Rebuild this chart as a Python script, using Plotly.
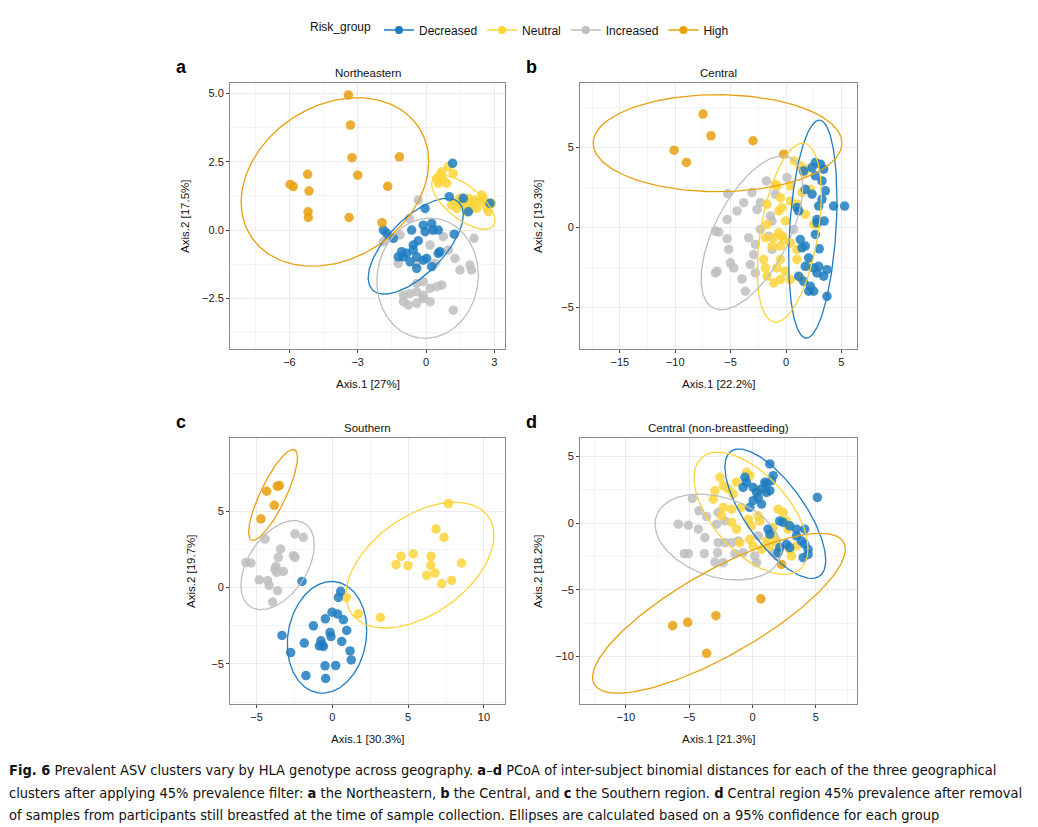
import numpy as np
import plotly.graph_objects as go

# The page body has an 8px margin; the figure is offset by it.
W, H = 1038, 827
OFF = 8
FW, FH = W - 2 * OFF, H - OFF


def px(x):
    return (x - OFF) / FW


def py(y):
    return 1 - (y - OFF) / FH


groups = ["Decreased", "Neutral", "Increased", "High"]
colors = ["#1F7CC1", "#FDD43A", "#BEBEBE", "#E8A00E"]

# ---------------- Panel a : Northeastern ----------------
a_dec_x = [1.17,1.02,1.64,2.81,-0.04,1.86,-1.87,-1.73,-1.43,-0.63,-0.12,0.25,-0.04,0.54,1.24,-0.34,-1.07,-1.22,-0.85,-0.56,-0.41,-0.12,0.03,-0.70,-0.41,0.25,0.54,0.61,-1.00,-0.56,0.32]
a_dec_y = [2.44,1.22,1.16,0.98,0.79,0.67,0.00,-0.12,-0.30,0.00,0.18,0.24,-0.06,0.00,-0.15,-0.39,-0.79,-0.98,-0.85,-0.73,-0.98,-1.10,-1.04,-1.16,-1.40,-1.34,-0.85,-0.79,-0.98,-0.55,0.00]
a_neu_x = [0.98,1.20,0.61,0.47,0.76,0.54,0.69,0.91,1.27,1.49,1.64,1.86,2.00,2.15,2.37,2.52,2.66,2.74,2.88,2.23,1.79,1.35,1.49,2.45,2.00,1.13,1.64]
a_neu_y = [2.32,2.07,2.01,1.89,1.83,1.71,2.13,1.71,1.04,0.98,0.85,1.16,0.98,1.10,1.04,1.16,0.85,0.67,0.98,0.79,0.67,0.79,1.16,1.28,0.79,0.91,1.04]
a_inc_x = [-0.34,-0.73,-1.14,-1.58,-1.87,0.25,0.76,0.18,0.98,2.11,1.27,1.93,2.00,1.49,-1.22,-0.41,0.40,-0.12,-0.41,0.47,0.69,0.18,-0.41,-0.70,-0.99,-0.78,-0.41,-0.12,0.18,-0.12,1.20,-0.99]
a_inc_y = [1.10,0.43,-0.18,-0.24,-0.43,0.00,-0.24,-0.55,-0.73,-0.30,-1.04,-1.28,-1.46,-1.46,-1.22,-1.22,-1.22,-1.89,-1.95,-2.07,-2.01,-2.13,-2.26,-2.32,-2.62,-2.74,-2.68,-2.50,-2.62,-2.38,-2.93,-2.38]
a_high_x = [-3.41,-3.32,-3.25,-3.00,-1.17,-5.20,-5.97,-5.83,-5.14,-1.68,-5.18,-5.17,-3.38,-1.93]
a_high_y = [4.94,3.84,2.65,2.01,2.68,2.04,1.67,1.59,1.43,1.60,0.67,0.46,0.46,0.27]
# ellipse parameters [Decreased, Neutral, Increased, High]
ell_a_cx = [-0.45, 1.64, 0.07, -4.00]
ell_a_cy = [-0.59, 1.02, -1.76, 1.76]
ell_a_sx = [2.09, 1.39, 2.23, 4.12]
ell_a_sy = [1.75, 0.99, 2.20, 3.08]
ell_a_r = [0.66, -0.67, 0.05, 0.24]

# ---------------- Panel b : Central ----------------
b_dec_x = [2.65,3.10,3.40,2.35,1.59,2.65,3.25,1.74,2.35,3.55,3.25,4.30,5.29,0.99,1.14,2.95,2.80,2.80,2.65,1.74,1.44,2.05,1.74,2.50,2.95,3.70,3.40,1.14,1.59,2.05,2.50,3.70,2.80,1.29,2.20,3.00,3.45]
b_dec_y = [4.06,3.95,3.64,3.74,3.53,3.22,2.90,2.38,2.07,2.28,1.75,1.33,1.33,1.23,1.02,1.33,0.49,0.28,-0.45,-1.18,-1.29,-1.92,-2.45,-2.55,-2.45,-2.66,-3.07,-3.07,-3.39,-4.01,-4.01,-4.33,-2.86,-0.77,-3.70,-1.35,0.39]
b_neu_x = [0.75,1.29,1.89,1.59,-0.96,0.39,2.20,-0.51,0.39,-1.71,-0.36,1.00,1.44,-0.06,-1.71,-0.66,-0.36,-1.11,-1.86,-1.26,-0.51,0.39,0.99,2.50,2.80,0.99,-0.51,-1.86,-1.71,-0.81,-0.06,-1.11,-0.51,0.39,1.29,2.05,-2.02,-0.21,1.74,-0.66,-0.81]
b_neu_y = [4.16,3.85,3.64,3.43,2.69,2.59,2.38,1.85,1.65,1.44,1.23,1.44,2.17,0.39,0.18,-0.35,-0.56,-0.66,-0.66,-1.18,-1.18,-0.98,-1.39,0.18,0.18,-2.02,-2.02,-2.55,-3.07,-2.55,-2.76,-3.49,-3.28,-3.28,-3.18,-2.45,-2.02,-0.77,0.81,1.02,2.59]
b_inc_x = [-1.77,0.09,-3.07,-0.96,-3.82,-5.26,-2.32,-2.62,-4.42,-1.41,-1.26,-5.32,-6.38,-6.08,-5.32,-3.37,-2.32,-2.77,-2.92,-5.17,-5.02,-4.72,-6.23,-6.38,-3.97,-3.22,-2.77,-3.67,-1.26,-1.56,0.69]
b_inc_y = [2.90,3.11,2.17,2.07,1.54,2.11,1.54,1.12,1.02,0.70,0.39,0.49,-0.24,-0.30,-0.72,-0.66,-0.14,-1.08,-1.71,-1.39,-2.23,-2.55,-2.76,-2.86,-3.24,-2.34,-2.86,-4.01,-1.39,-0.56,-0.14]
b_high_x = [-7.49,-6.77,-2.98,-10.10,-8.99,-0.21]
b_high_y = [7.09,5.73,5.42,4.83,4.06,4.58]
ell_b_cx = [2.42, 0.29, -3.08, -6.18]
ell_b_cy = [-0.12, -0.34, -0.35, 5.27]
ell_b_sx = [2.18, 2.90, 4.59, 11.23]
ell_b_sy = [6.83, 5.61, 4.82, 3.04]
ell_b_r = [0.27, 0.42, 0.60, 0.0]

# ---------------- Panel c : Southern ----------------
c_dec_x = [-2.00,0.55,0.40,-0.02,0.35,-0.46,0.73,-1.25,0.95,-0.15,-0.09,-3.32,0.62,-1.85,-0.75,-0.68,-0.86,-0.59,1.17,1.25,-2.75,-0.48,0.22,-1.74,-0.44]
c_dec_y = [0.40,-0.25,-0.65,-1.61,-1.74,-2.05,-2.11,-2.51,-2.81,-2.94,-3.21,-3.14,-3.53,-3.64,-3.49,-3.75,-3.82,-3.86,-4.15,-4.74,-4.26,-5.13,-5.11,-5.77,-5.96]
c_neu_x = [7.65,6.84,7.37,4.53,5.34,6.51,4.20,4.99,6.49,8.53,6.77,6.22,7.21,7.87,0.92,1.72,3.17]
c_neu_y = [5.50,3.84,3.29,2.05,2.20,2.05,1.50,1.43,1.46,1.61,0.95,0.80,0.25,0.47,-0.65,-1.72,-1.96]
c_inc_x = [-5.70,-5.37,-4.44,-3.41,-2.46,-1.91,-3.56,-2.57,-2.46,-3.72,-3.67,-3.23,-4.82,-4.27,-4.16,-3.61,-3.94,-3.78]
c_inc_y = [1.65,1.61,3.18,2.53,3.51,3.29,1.98,2.09,1.98,1.39,0.99,1.06,0.51,0.45,0.14,-0.21,-0.95,1.17]
c_high_x = [-4.33,-3.63,-3.50,-3.83,-4.71]
c_high_y = [6.31,6.64,6.68,5.39,4.50]
ell_c_cx = [-0.35, 5.78, -3.61, -3.91]
ell_c_cy = [-3.26, 1.47, 1.47, 6.07]
ell_c_sx = [2.62, 4.88, 2.42, 1.61]
ell_c_sy = [3.66, 4.12, 2.92, 2.98]
ell_c_r = [0.12, 0.47, 0.45, 0.82]

# ---------------- Panel d : Central (non-breastfeeding) ----------------
d_dec_x = [1.37,1.63,1.50,0.97,-0.47,-0.60,-0.74,0.05,0.71,1.10,1.37,0.45,0.05,0.71,-0.21,5.12,2.15,2.42,2.94,3.47,4.12,1.23,1.37,3.47,3.86,4.12,4.39,4.39,4.00,2.94,2.15,2.02,2.68,1.10,0.32]
d_dec_y = [4.43,3.55,3.17,3.05,3.05,3.42,2.67,2.67,2.55,2.29,2.42,1.92,1.67,1.42,1.17,1.92,0.16,0.04,-0.21,-0.46,-0.46,-0.46,-0.84,-0.97,-1.34,-1.59,-1.97,-2.35,-2.60,-1.84,-1.84,-2.22,-1.59,2.92,2.29]
d_neu_x = [-2.57,-2.31,-2.97,-3.10,-1.92,-1.52,-0.21,-0.47,0.45,-1.26,-2.31,-1.65,-0.87,-2.44,-0.34,-0.08,-1.65,-1.26,0.45,2.02,2.42,2.68,1.63,1.89,-0.21,0.05,-1.00,0.71,1.10,2.94,3.07,3.47,2.81,1.63,2.15,1.37,0.58]
d_neu_y = [3.42,2.80,2.42,1.79,2.55,2.17,3.55,3.80,2.42,3.05,1.17,1.04,1.17,0.54,0.29,-0.21,0.04,-0.46,0.54,1.04,0.79,0.16,-0.97,-1.34,-1.22,-1.72,-1.47,-1.97,-1.34,-1.97,-2.47,-1.72,-0.46,-0.34,-1.97,-1.72,0.16]
d_inc_x = [-4.75,-5.86,-5.07,-4.28,-3.62,-2.84,-2.71,-3.76,-2.71,-2.18,-1.65,-5.38,-5.07,-3.81,-2.76,-2.97,-2.31,-1.39,0.32,0.18,-0.74,-1.13,0.45,1.63,1.89,-4.23,-2.18]
d_inc_y = [1.84,-0.09,-0.16,-0.46,0.49,-0.09,0.79,-1.09,-1.47,-1.47,-1.47,-2.30,-2.30,-2.30,-2.22,-2.92,-2.97,-2.30,-2.97,-2.47,-2.22,-1.34,-0.97,-2.22,-2.47,0.91,0.16]
d_high_x = [0.66,-2.89,-5.12,-6.30,-3.62,2.29]
d_high_y = [-5.68,-6.94,-7.44,-7.69,-9.76,-3.10]
ell_d_cx = [1.80, -0.12, -2.71, -2.65]
ell_d_cy = [0.70, 0.73, -1.05, -6.76]
ell_d_sx = [3.98, 4.50, 4.99, 9.98]
ell_d_sy = [4.85, 4.58, 3.22, 5.99]
ell_d_r = [-0.72, -0.58, -0.30, 0.80]

panel_titles = ["Northeastern", "Central", "Southern", "Central (non-breastfeeding)"]
panel_letters = ["a", "b", "c", "d"]
x_titles = ["Axis.1 [27%]", "Axis.1 [22.2%]", "Axis.1 [30.3%]", "Axis.1 [21.3%]"]
y_titles = ["Axis.2 [17.5%]", "Axis.2 [19.3%]", "Axis.2 [19.7%]", "Axis.2 [18.2%]"]

caption_lines = [
    "<b>Fig. 6</b> Prevalent ASV clusters vary by HLA genotype across geography. <b>a</b>–<b>d</b> PCoA of inter-subject binomial distances for each of the three geographical",
    "clusters after applying 45% prevalence filter: <b>a</b> the Northeastern, <b>b</b> the Central, and <b>c</b> the Southern region. <b>d</b> Central region 45% prevalence after removal",
    "of samples from participants still breastfed at the time of sample collection. Ellipses are calculated based on a 95% confidence for each group",
]

panels = [
    dict(pts=[(a_dec_x, a_dec_y), (a_neu_x, a_neu_y), (a_inc_x, a_inc_y), (a_high_x, a_high_y)],
         ell=(ell_a_cx, ell_a_cy, ell_a_sx, ell_a_sy, ell_a_r),
         box=(230, 505, 83, 349), xr=[-8.61, 3.47], yr=[-4.35, 5.38], xd=3, yd=2.5, yfmt=".1f", ytx=185),
    dict(pts=[(b_dec_x, b_dec_y), (b_neu_x, b_neu_y), (b_inc_x, b_inc_y), (b_high_x, b_high_y)],
         ell=(ell_b_cx, ell_b_cy, ell_b_sx, ell_b_sy, ell_b_r),
         box=(580, 857, 83, 349), xr=[-18.6, 6.41], yr=[-7.63, 9.04], xd=5, yd=5, yfmt="d", ytx=538),
    dict(pts=[(c_dec_x, c_dec_y), (c_neu_x, c_neu_y), (c_inc_x, c_inc_y), (c_high_x, c_high_y)],
         ell=(ell_c_cx, ell_c_cy, ell_c_sx, ell_c_sy, ell_c_r),
         box=(230, 505, 438, 704), xr=[-6.75, 11.39], yr=[-7.63, 9.80], xd=5, yd=5, yfmt="d", ytx=191),
    dict(pts=[(d_dec_x, d_dec_y), (d_neu_x, d_neu_y), (d_inc_x, d_inc_y), (d_high_x, d_high_y)],
         ell=(ell_d_cx, ell_d_cy, ell_d_sx, ell_d_sy, ell_d_r),
         box=(580, 857, 438, 704), xr=[-13.62, 8.25], yr=[-13.56, 6.37], xd=5, yd=5, yfmt="d", ytx=538),
]

FONT = "Liberation Sans, Arial, Helvetica, sans-serif"
fig = go.Figure()
layout_axes = {}
annotations = []
draw_order = [2, 1, 0, 3]
t = np.linspace(0, 2 * np.pi, 240)

for i, p in enumerate(panels):
    n = "" if i == 0 else str(i + 1)
    xa, ya = "x" + n, "y" + n
    for g in draw_order:
        xs, ys = p["pts"][g]
        fig.add_trace(go.Scatter(x=xs, y=ys, mode="markers", xaxis=xa, yaxis=ya,
                                 marker=dict(color=colors[g], size=9.5, opacity=0.85, line=dict(width=0)),
                                 showlegend=False, hoverinfo="skip"))
    cx, cy, sx, sy, rr = p["ell"]
    for g in range(4):
        ex = cx[g] + sx[g] * np.cos(t)
        ey = cy[g] + sy[g] * (rr[g] * np.cos(t) + np.sqrt(1 - rr[g] ** 2) * np.sin(t))
        fig.add_trace(go.Scatter(x=ex, y=ey, mode="lines", xaxis=xa, yaxis=ya,
                                 line=dict(color=colors[g], width=1.3),
                                 showlegend=False, hoverinfo="skip"))
    x0, x1, y0, y1 = p["box"]
    common = dict(showline=True, mirror=True, linecolor="#8a8a8a", linewidth=1,
                  showgrid=True, gridcolor="#EBEBEB", gridwidth=1, zeroline=False,
                  ticks="outside", ticklen=3, tickcolor="#444", tickwidth=1,
                  tickfont=dict(family=FONT, size=11, color="#222"), fixedrange=True)
    layout_axes["xaxis" + n] = dict(common, domain=[px(x0), px(x1)], anchor=ya, range=p["xr"],
                                    tickmode="linear", tick0=0, dtick=p["xd"],
                                    minor=dict(tick0=0, dtick=p["xd"] / 2, showgrid=True, gridcolor="#F4F4F4", ticks=""))
    layout_axes["yaxis" + n] = dict(common, domain=[py(y1), py(y0)], anchor=xa, range=p["yr"],
                                    tickmode="linear", tick0=0, dtick=p["yd"], tickformat=p["yfmt"],
                                    minor=dict(tick0=0, dtick=p["yd"] / 2, showgrid=True, gridcolor="#F4F4F4", ticks=""))
    mx = (x0 + x1) / 2
    annotations.append(dict(text=panel_titles[i], x=px(mx), y=py(y0 - 10), xref="paper", yref="paper",
                            showarrow=False, xanchor="center", yanchor="middle",
                            font=dict(family=FONT, size=11.5, color="#111")))
    annotations.append(dict(text="<b>" + panel_letters[i] + "</b>", x=px(x0 - 56), y=py(y0 - 16),
                            xref="paper", yref="paper", showarrow=False, xanchor="left", yanchor="middle",
                            font=dict(family=FONT, size=18, color="#000")))
    annotations.append(dict(text=x_titles[i], x=px(mx), y=py(y1 + 35), xref="paper", yref="paper",
                            showarrow=False, xanchor="center", yanchor="middle",
                            font=dict(family=FONT, size=11.5, color="#111")))
    annotations.append(dict(text=y_titles[i], x=px(p["ytx"]), y=py((y0 + y1) / 2), xref="paper", yref="paper",
                            showarrow=False, xanchor="center", yanchor="middle", textangle=-90,
                            font=dict(family=FONT, size=11.5, color="#111")))

for k, line in enumerate(caption_lines):
    annotations.append(dict(text=line, x=px(7), y=py(770 + 22.5 * k), xref="paper", yref="paper",
                            showarrow=False, xanchor="left", yanchor="middle", align="left",
                            font=dict(family="Liberation Sans Narrow, DejaVu Sans Condensed, Arial Narrow, sans-serif",
                                      size=14.5, color="#111")))

for g in range(4):
    fig.add_trace(go.Scatter(x=[None], y=[None], mode="lines+markers", name=groups[g],
                             marker=dict(color=colors[g], size=8), line=dict(color=colors[g], width=1.3),
                             showlegend=True))

fig.update_layout(
    width=FW, height=FH, margin=dict(l=0, r=0, t=0, b=0),
    paper_bgcolor="white", plot_bgcolor="white",
    font=dict(family=FONT, size=11.5, color="#111"),
    showlegend=True,
    legend=dict(orientation="h", x=px(521), xanchor="center", y=py(30), yanchor="middle",
                title=dict(text="Risk_group", side="left", font=dict(family=FONT, size=12, color="#111")),
                itemwidth=30, tracegroupgap=0,
                font=dict(family=FONT, size=12, color="#111"), bgcolor="rgba(0,0,0,0)"),
    annotations=annotations,
    **layout_axes,
)

fig.write_html("out.html")
